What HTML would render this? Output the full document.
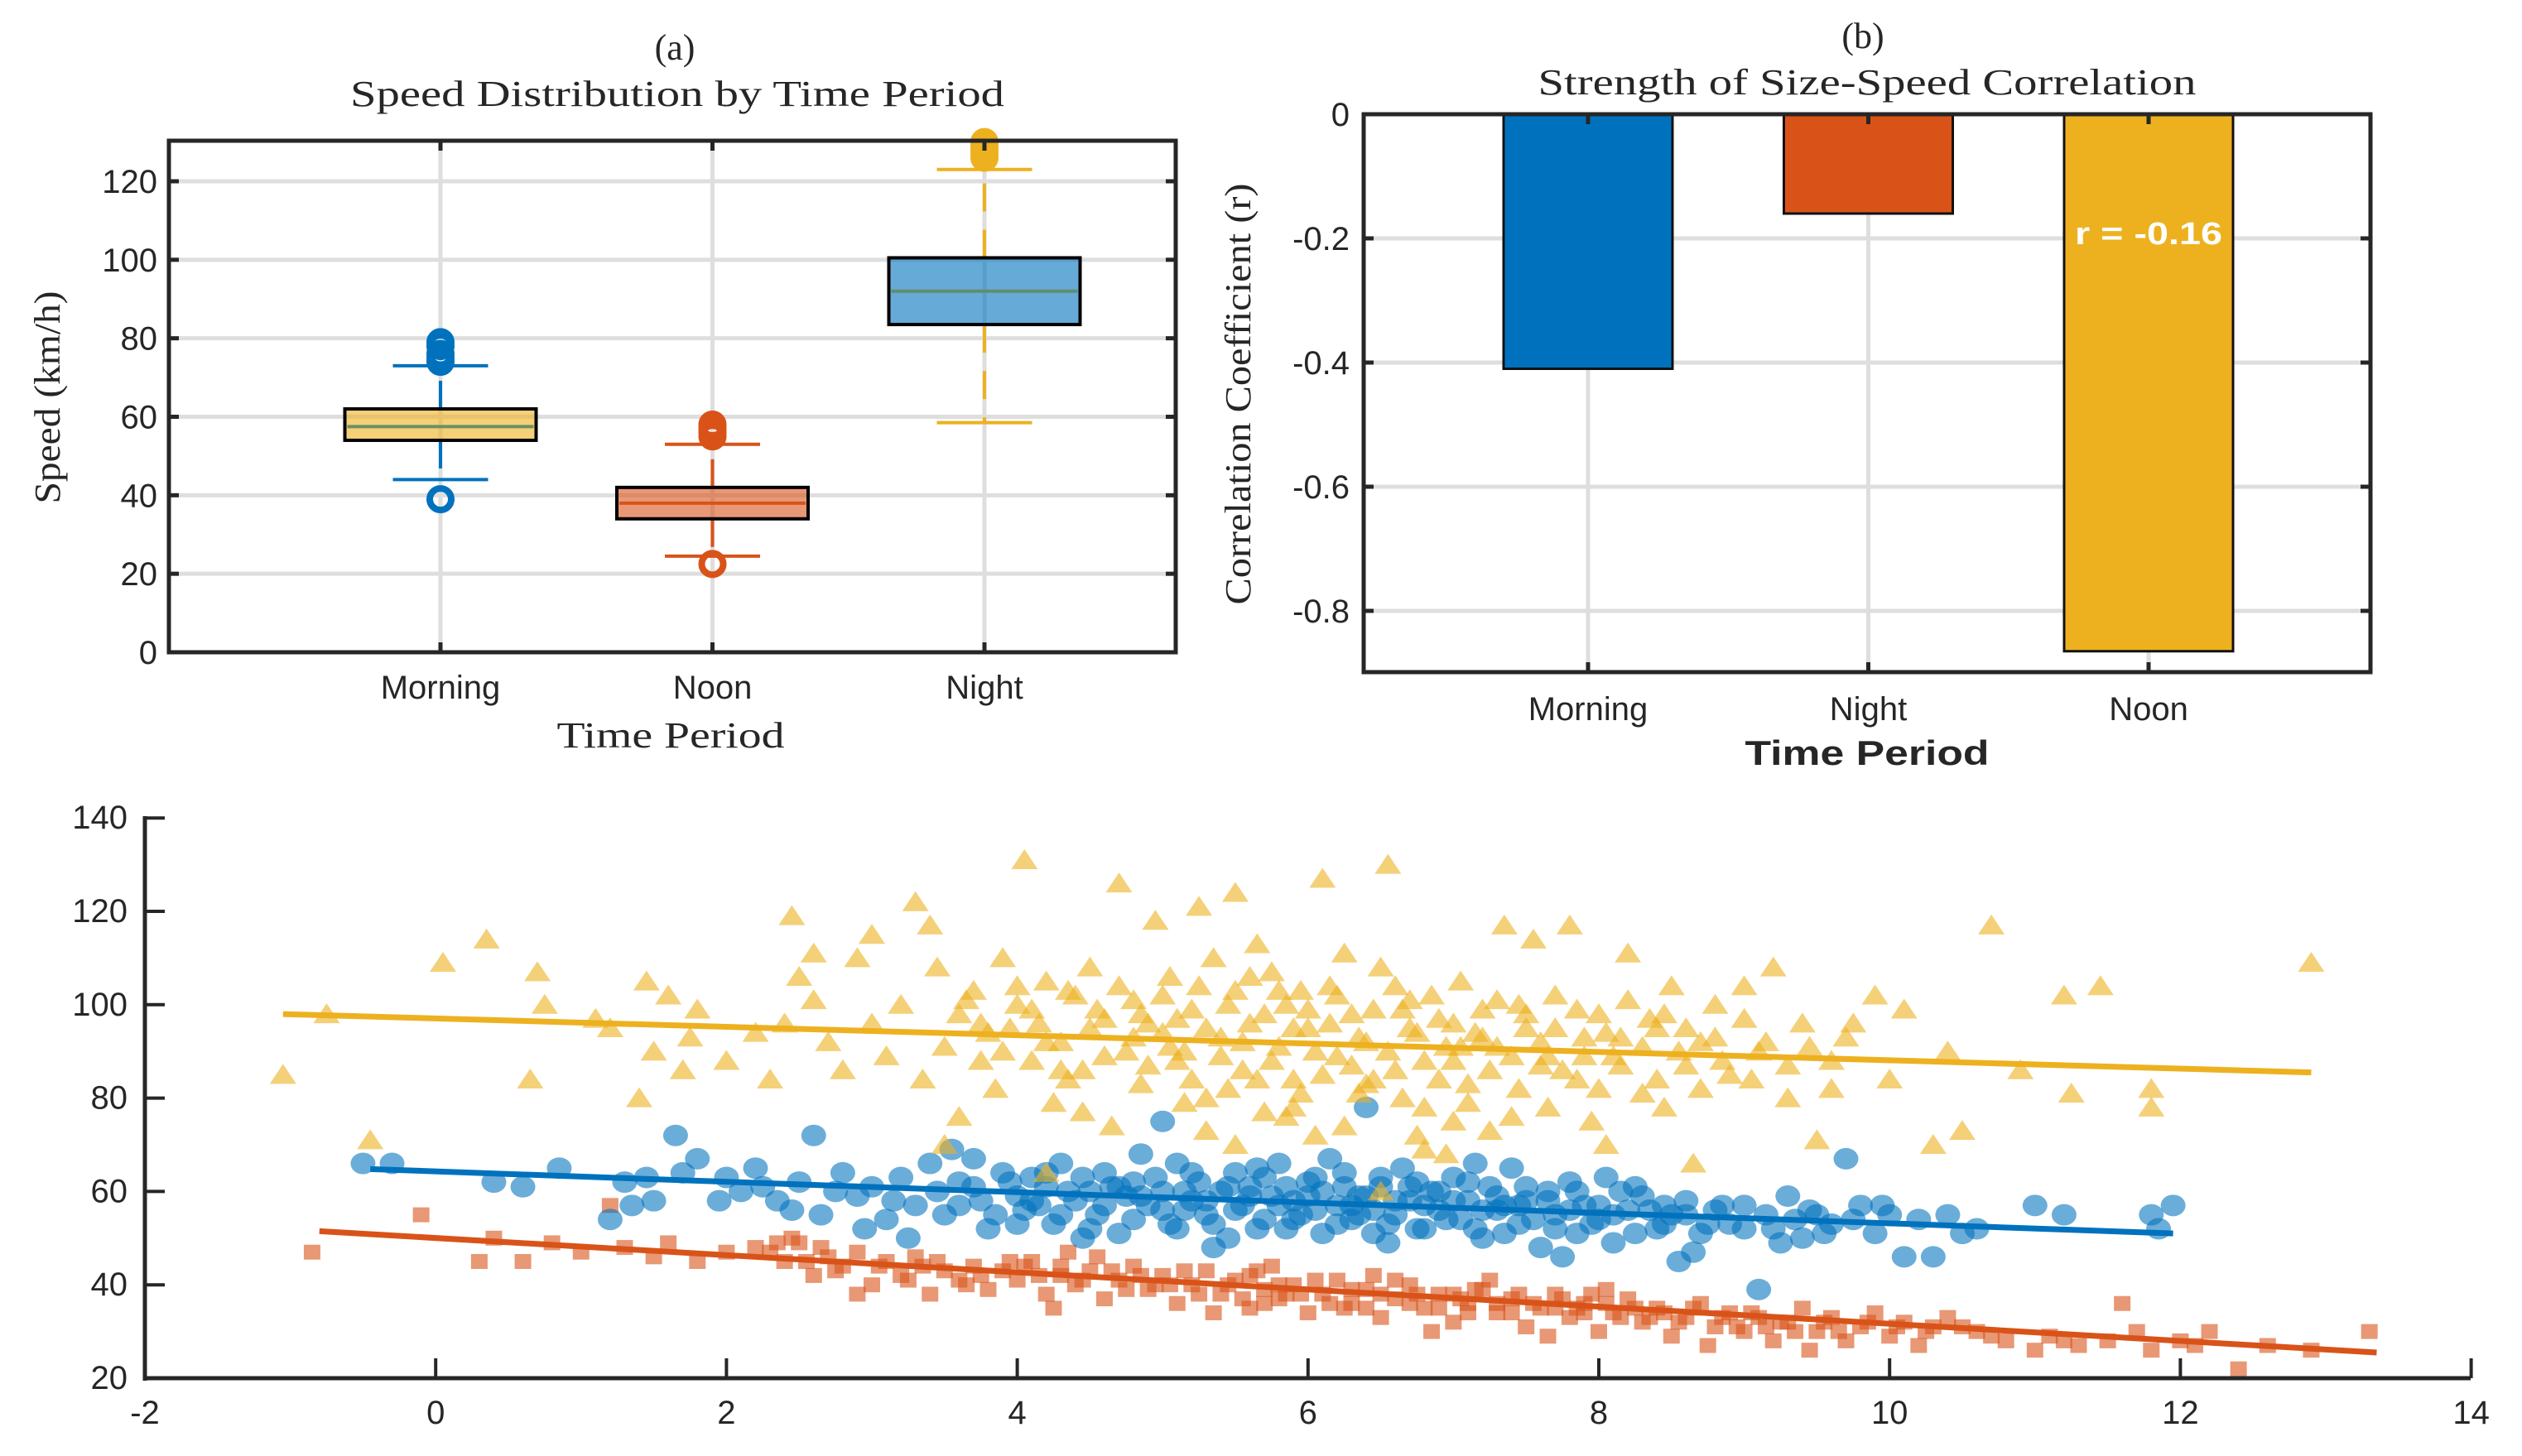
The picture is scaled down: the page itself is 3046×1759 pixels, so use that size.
<!DOCTYPE html>
<html><head><meta charset="utf-8"><style>
html,body{margin:0;padding:0;background:#fff}
svg{display:block}
text{fill:#262626}
.tk{font-family:"Liberation Sans",sans-serif;font-size:40px}
.sf{font-family:"Liberation Serif",serif}
</style></head><body>
<svg id="fig" width="3046" height="1759" viewBox="0 0 3046 1759" xmlns="http://www.w3.org/2000/svg">
<rect width="3046" height="1759" fill="#fff"/>
<g id="pa"></g>
<g id="pb"></g>
<g id="pc"></g>
</svg>
<script>
// ---------- Panel (a) data ----------
const boxCats = ["Morning","Noon","Night"];
const boxQ1 = [54, 34, 83.5];
const boxMed = [57.5, 38, 92];
const boxQ3 = [62, 42, 100.5];
const boxLo = [44, 24.5, 58.5];
const boxHi = [73, 53, 123];
const boxOutliers = [[39, 74, 75, 76, 78, 79], [22.5, 55, 56, 57, 58], [126, 127, 128, 129, 130]];
const boxYTicks = [0, 20, 40, 60, 80, 100, 120];
// ---------- Panel (b) data ----------
const barCats = ["Morning","Night","Noon"];
const barVals = [-0.41, -0.16, -0.865];
const barYTicks = [0, -0.2, -0.4, -0.6, -0.8];
const barYTickLabels = ["0","-0.2","-0.4","-0.6","-0.8"];
// ---------- Panel (c) data ----------
const scXTicks = [-2,0,2,4,6,8,10,12,14];
const scYTicks = [20,40,60,80,100,120,140];
const nightPts = [[-1.05,85],[-0.75,98],[-0.45,71],[0.05,109],[0.35,114],[0.65,84],[0.7,107],[0.75,100],[1.1,97],[1.2,95],[1.45,105],[1.5,90],[1.6,102],[1.75,93],[1.8,99],[1.4,80],[1.7,86],[2.0,88],[2.2,94],[2.3,84],[2.4,96],[2.45,119],[2.5,106],[2.6,111],[2.6,101],[2.7,92],[2.8,86],[2.9,110],[3.0,115],[3.0,96],[3.1,89],[3.2,100],[3.3,122],[3.35,84],[3.4,117],[3.45,108],[3.5,91],[3.6,98],[3.6,76],[3.7,103],[3.8,94],[3.85,82],[3.9,110],[4.0,100],[4.05,131],[4.1,88],[4.15,96],[4.2,105],[4.25,79],[4.3,92],[4.4,102],[4.45,86],[4.5,108],[4.6,97],[4.65,74],[4.7,126],[4.75,90],[4.8,101],[4.85,83],[4.95,118],[5.0,94],[5.05,106],[5.1,88],[5.2,99],[5.25,121],[5.3,80],[5.35,110],[5.4,93],[5.5,124],[5.5,103],[5.55,86],[5.6,96],[5.7,77],[5.75,107],[5.8,91],[5.85,100],[5.9,84],[6.0,95],[6.05,72],[6.1,127],[6.15,104],[6.2,89],[6.3,98],[6.35,81],[6.4,92],[6.5,108],[6.55,130],[6.6,86],[6.7,101],[6.75,94],[6.8,78],[6.9,97],[7.0,88],[7.05,105],[7.1,83],[7.2,99],[7.3,91],[7.35,117],[7.4,76],[7.5,95],[7.55,114],[7.6,87],[7.7,102],[7.8,117],[7.85,84],[7.9,93],[8.0,98],[8.05,70],[8.1,89],[8.2,111],[8.3,81],[8.4,95],[8.5,104],[8.6,87],[8.65,66],[8.7,92],[8.8,100],[8.9,85],[9.0,104],[9.1,90],[9.2,108],[9.3,80],[9.4,96],[9.5,71],[9.6,88],[9.7,93],[9.9,102],[10.0,84],[10.1,99],[10.3,70],[10.4,90],[10.5,73],[10.7,117],[10.9,86],[11.2,102],[11.25,81],[11.45,104],[11.8,82],[11.8,78],[12.9,109],[4.2,64],[3.5,70],[6.5,60],[5.9,78],[7.0,75],[5.3,73],[6.8,69],[4.55,99],[5.65,113],[6.25,111],[3.95,95],[7.45,100],[8.35,97],[5.15,90],[6.45,84],[3.75,88],[4.35,84],[5.45,82],[6.95,91],[7.65,89],[8.15,93],[5.95,103],[4.9,96],[6.65,99],[7.15,94]];
const nightDense = [[3.65,101],[3.75,96],[3.9,90],[4.0,104],[4.1,99],[4.2,92],[4.3,86],[4.35,103],[4.5,95],[4.6,89],[4.7,104],[4.8,93],[4.85,98],[4.9,87],[5.0,102],[5.05,91],[5.1,97],[5.2,84],[5.25,104],[5.3,95],[5.4,89],[5.45,100],[5.55,92],[5.6,106],[5.65,84],[5.7,98],[5.75,88],[5.8,103],[5.9,95],[5.95,81],[6.0,99],[6.05,90],[6.1,85],[6.15,96],[6.2,102],[6.3,87],[6.35,93],[6.4,83],[6.45,99],[6.55,90],[6.6,104],[6.65,80],[6.7,95],[6.8,88],[6.85,102],[6.9,84],[7.0,96],[7.05,91],[7.1,79],[7.2,93],[7.25,86],[7.3,101],[7.4,89],[7.45,82],[7.5,98],[7.6,92],[7.65,78],[7.7,95],[7.75,86],[7.85,99],[7.9,89],[8.0,82],[8.05,94],[8.15,87],[8.2,101],[8.3,91],[8.4,84],[8.45,98],[8.55,90],[8.6,95],[8.7,82],[8.8,93],[8.85,88],[9.0,97],[9.05,84],[9.15,92],[9.3,87],[9.45,91],[9.6,82],[9.75,96],[5.15,79],[5.85,76],[6.25,74],[6.75,72],[7.25,73],[7.95,75],[8.45,78],[4.45,77],[5.5,70],[6.95,68]];
const morningPts = [[-0.5,66],[-0.3,66],[0.4,62],[0.6,61],[0.85,65],[1.2,54],[1.3,62],[1.35,57],[1.45,63],[1.5,58],[1.65,72],[1.7,64],[1.8,67],[2.0,63],[2.1,60],[2.2,65],[2.35,58],[2.5,62],[2.6,72],[2.65,55],[2.8,64],[2.9,59],[3.0,61],[3.1,54],[3.2,63],[3.3,57],[3.4,66],[3.45,60],[3.5,55],[3.6,62],[3.7,67],[3.75,58],[3.8,52],[3.9,64],[4.0,59],[4.05,56],[4.1,63],[4.2,61],[4.25,53],[4.3,66],[4.4,58],[4.5,60],[4.55,55],[4.6,64],[4.7,51],[4.75,59],[4.8,62],[4.9,57],[5.0,75],[5.0,60],[5.05,53],[5.1,66],[5.2,58],[5.25,62],[5.3,55],[5.4,60],[5.45,50],[5.5,64],[5.55,57],[5.6,61],[5.7,54],[5.75,59],[5.8,66],[5.85,52],[5.9,58],[6.0,62],[6.05,56],[6.1,60],[6.2,53],[6.25,64],[6.3,57],[6.4,78],[6.4,59],[6.45,51],[6.5,61],[6.6,55],[6.65,65],[6.7,58],[6.8,52],[6.85,60],[6.9,56],[7.0,63],[7.05,54],[7.1,58],[7.2,50],[7.25,61],[7.3,56],[7.4,65],[7.45,53],[7.5,58],[7.6,48],[7.65,60],[7.7,55],[7.8,62],[7.85,51],[7.9,57],[8.0,54],[8.05,63],[8.1,49],[8.2,56],[8.3,59],[8.4,52],[8.5,55],[8.55,45],[8.6,58],[8.7,51],[8.8,56],[8.9,53],[9.0,57],[9.1,39],[9.2,52],[9.3,59],[9.4,50],[9.5,55],[9.6,53],[9.7,67],[9.8,57],[9.9,51],[10.0,55],[10.1,46],[10.2,54],[10.3,46],[10.5,51],[10.6,52],[11.0,57],[11.2,55],[11.8,55],[11.95,57],[11.85,52],[3.55,69],[4.85,68],[5.65,65],[6.15,67],[7.15,66],[8.25,61],[6.55,49],[5.35,48],[4.45,50],[7.75,46],[8.65,47],[9.25,49],[3.25,50],[2.95,52],[4.15,57],[5.15,56],[6.35,55],[7.35,57],[8.45,57],[9.35,54],[10.4,55],[5.95,55],[6.75,62],[4.65,61]];
const morningDense = [[3.6,57],[3.7,61],[3.85,55],[3.95,62],[4.0,53],[4.1,58],[4.2,64],[4.3,55],[4.35,60],[4.45,63],[4.5,52],[4.6,57],[4.7,61],[4.8,54],[4.85,59],[4.95,63],[5.0,56],[5.1,52],[5.15,60],[5.2,64],[5.3,58],[5.35,53],[5.45,61],[5.5,56],[5.6,59],[5.65,52],[5.7,63],[5.8,57],[5.85,61],[5.9,54],[6.0,59],[6.05,63],[6.1,51],[6.2,57],[6.25,61],[6.3,54],[6.35,59],[6.45,56],[6.5,63],[6.55,53],[6.6,58],[6.7,61],[6.75,52],[6.8,57],[6.9,60],[6.95,54],[7.0,58],[7.1,62],[7.15,52],[7.2,56],[7.3,59],[7.35,51],[7.45,57],[7.5,61],[7.55,54],[7.65,58],[7.7,52],[7.8,56],[7.85,60],[7.95,53],[8.0,57],[8.1,55],[8.15,60],[8.25,51],[8.35,56],[8.45,53],[8.6,55],[8.75,53],[8.85,57],[9.0,52],[9.15,55],[9.45,56],[9.55,51],[9.75,54],[9.95,57],[3.15,58],[2.75,60],[2.45,56],[2.25,61],[1.95,58]];
const noonPts = [[-0.85,47],[-0.1,55],[0.3,45],[0.4,50],[0.6,45],[0.8,49],[1.0,47],[1.2,57],[1.3,48],[1.5,46],[1.6,49],[1.8,45],[2.0,47],[2.2,48],[2.4,45],[2.5,49],[2.6,42],[2.7,46],[2.8,44],[2.9,47],[3.0,40],[3.1,45],[3.2,42],[3.3,46],[3.4,38],[3.5,43],[3.6,41],[3.7,44],[3.8,39],[3.9,43],[4.0,41],[4.1,45],[4.2,38],[4.3,42],[4.35,47],[4.4,40],[4.5,43],[4.6,37],[4.7,41],[4.8,44],[4.9,39],[5.0,42],[5.1,36],[5.2,40],[5.3,43],[5.4,38],[5.5,41],[5.6,35],[5.7,39],[5.75,44],[5.8,37],[5.9,40],[6.0,34],[6.1,38],[6.2,41],[6.3,36],[6.4,39],[6.5,33],[6.6,37],[6.7,40],[6.8,35],[6.9,38],[7.0,32],[7.1,36],[7.2,39],[7.3,34],[7.4,37],[7.5,31],[7.6,35],[7.7,38],[7.8,33],[7.9,36],[8.0,30],[8.1,34],[8.2,37],[8.3,32],[8.4,35],[8.5,29],[8.6,33],[8.7,36],[8.8,31],[8.9,34],[9.0,30],[9.1,33],[9.2,28],[9.3,32],[9.4,35],[9.5,30],[9.6,33],[9.7,28],[9.8,31],[9.9,34],[10.0,29],[10.1,32],[10.2,27],[10.3,31],[10.4,33],[10.6,30],[10.8,28],[11.0,26],[11.1,29],[11.3,27],[11.6,36],[11.7,30],[11.8,26],[12.0,28],[12.2,30],[12.4,22],[12.6,27],[12.9,26],[13.3,30],[5.65,43],[6.45,42],[7.25,41],[8.05,39],[4.55,46],[3.35,44],[2.35,49],[6.85,30],[7.65,29],[8.75,27],[9.45,26],[5.35,34],[4.25,35],[2.9,38],[4.05,44],[4.95,40],[5.85,38],[6.25,35],[7.05,37],[7.85,35],[8.35,33],[9.15,31],[3.65,40],[2.55,45]];
const noonDense = [[2.3,47],[2.45,50],[2.65,48],[2.75,43],[3.05,44],[3.25,41],[3.45,45],[3.75,42],[3.95,45],[4.15,42],[4.3,44],[4.45,41],[4.65,43],[4.75,39],[4.85,42],[5.05,40],[5.15,43],[5.25,38],[5.45,40],[5.55,37],[5.6,42],[5.7,36],[5.8,40],[5.95,38],[6.05,41],[6.15,36],[6.3,39],[6.4,35],[6.5,38],[6.6,41],[6.7,36],[6.75,38],[6.9,35],[7.0,38],[7.1,34],[7.15,39],[7.3,36],[7.4,34],[7.45,38],[7.55,36],[7.7,35],[7.75,37],[7.9,34],[7.95,38],[8.05,36],[8.15,33],[8.25,35],[8.45,34],[8.55,32],[8.65,35],[8.85,33],[8.95,31],[9.05,34],[9.25,32],[9.35,30],[9.55,32],[9.65,30],[9.85,32],[10.05,31],[10.25,30],[10.5,31],[10.7,29],[11.2,28],[11.5,28],[12.1,27]];
const fitNightX = [-1.05, 12.9], fitNightY = [98, 85.5];
const fitMorningX = [-0.45, 11.95], fitMorningY = [64.8, 51];
const fitNoonX = [-0.8, 13.35], fitNoonY = [51.5, 25.5];

const NS = "http://www.w3.org/2000/svg";
function mk(parent, tag, attrs, txt){
  const e = document.createElementNS(NS, tag);
  for (const k in attrs) e.setAttribute(k, attrs[k]);
  if (txt !== undefined) e.textContent = txt;
  parent.appendChild(e);
  return e;
}
const AX = "#262626", GRID = "#dedede";

// ================= Panel A =================
(function(){
  const g = document.getElementById('pa');
  const L=204, R=1420, T=170, B=788;
  const ya = v => B - v*(B-219)/120;
  const xa = i => 532 + i*328.5;
  const bw = 231, cw = 115;
  for (const v of boxYTicks){ const l=mk(g,'line',{x1:L,x2:R,y1:ya(v),y2:ya(v),stroke:GRID,'stroke-width':5});
      }
  boxCats.forEach((c,i)=>{ const l=mk(g,'line',{x1:xa(i),x2:xa(i),y1:T,y2:B,stroke:GRID,'stroke-width':5});
      });
  const wc = ["#0072BD","#D95319","#EDB120"];
  const fc = ["rgba(237,177,32,0.6)","rgba(217,83,25,0.6)","rgba(0,114,189,0.6)"];
  const mc = ["#6f8f5f","#D95319","#5f8f6a"];
  boxCats.forEach((c,i)=>{
    const x = xa(i);
    const bg = mk(g,'g',{});
     
    mk(bg,'line',{x1:x,x2:x,y1:ya(boxQ3[i]),y2:ya(boxHi[i]),stroke:wc[i],'stroke-width':4,'stroke-dasharray':'34 22'});
    mk(bg,'line',{x1:x,x2:x,y1:ya(boxQ1[i]),y2:ya(boxLo[i]),stroke:wc[i],'stroke-width':4,'stroke-dasharray':'34 22'});
    mk(bg,'line',{x1:x-cw/2,x2:x+cw/2,y1:ya(boxHi[i]),y2:ya(boxHi[i]),stroke:wc[i],'stroke-width':4});
    mk(bg,'line',{x1:x-cw/2,x2:x+cw/2,y1:ya(boxLo[i]),y2:ya(boxLo[i]),stroke:wc[i],'stroke-width':4});
    mk(bg,'rect',{x:x-bw/2,y:ya(boxQ3[i]),width:bw,height:ya(boxQ1[i])-ya(boxQ3[i]),fill:fc[i],stroke:'#000','stroke-width':4});
    mk(bg,'line',{x1:x-bw/2+3,x2:x+bw/2-3,y1:ya(boxMed[i]),y2:ya(boxMed[i]),stroke:mc[i],'stroke-width':4});
    for (const o of boxOutliers[i]){ const cEl=mk(bg,'circle',{cx:x,cy:ya(o),r:13,fill:'none',stroke:wc[i],'stroke-width':8});
        }
  });
  mk(g,'rect',{x:L,y:T,width:R-L,height:B-T,fill:'none',stroke:AX,'stroke-width':5});
  for (const v of boxYTicks){
    mk(g,'line',{x1:L,x2:L+12,y1:ya(v),y2:ya(v),stroke:AX,'stroke-width':5});
    mk(g,'line',{x1:R-12,x2:R,y1:ya(v),y2:ya(v),stroke:AX,'stroke-width':5});
    const t=mk(g,'text',{x:L-14,y:ya(v)+14,'text-anchor':'end',class:'tk'},String(v));
     
  }
  boxCats.forEach((c,i)=>{
    mk(g,'line',{x1:xa(i),x2:xa(i),y1:B-12,y2:B,stroke:AX,'stroke-width':5});
    mk(g,'line',{x1:xa(i),x2:xa(i),y1:T,y2:T+12,stroke:AX,'stroke-width':5});
    const t=mk(g,'text',{x:xa(i),y:844,'text-anchor':'middle',class:'tk'},c);
     
  });
  let t=mk(g,'text',{x:810,y:903,'text-anchor':'middle',class:'sf','font-size':44,textLength:275,lengthAdjust:'spacingAndGlyphs'},'Time Period');
   
  t=mk(g,'text',{x:0,y:0,'text-anchor':'middle',class:'sf','font-size':44,textLength:257,lengthAdjust:'spacingAndGlyphs',transform:'translate(72,480) rotate(-90)'},'Speed (km/h)');
   
  t=mk(g,'text',{x:815,y:72,'text-anchor':'middle',class:'sf','font-size':44},'(a)');
   
  t=mk(g,'text',{x:818,y:128,'text-anchor':'middle',class:'sf','font-size':44,textLength:790,lengthAdjust:'spacingAndGlyphs'},'Speed Distribution by Time Period');
   
})();

// ================= Panel B =================
(function(){
  const g = document.getElementById('pb');
  const L=1647, R=2863, T=138, B=812;
  const yb = v => T + (-v)*750;
  const xb = i => 1918 + i*338.5;
  const bw = 204;
  for (const v of barYTicks){ const l=mk(g,'line',{x1:L,x2:R,y1:yb(v),y2:yb(v),stroke:GRID,'stroke-width':5});
      }
  barCats.forEach((c,i)=>{ const l=mk(g,'line',{x1:xb(i),x2:xb(i),y1:T,y2:B,stroke:GRID,'stroke-width':5});
      });
  const cols = ["#0072BD","#D95319","#EDB120"];
  barCats.forEach((c,i)=>{
    const r=mk(g,'rect',{x:xb(i)-bw/2,y:yb(0),width:bw,height:yb(barVals[i])-yb(0),fill:cols[i],stroke:'#111','stroke-width':3});
     
  });
  let t=mk(g,'text',{x:xb(2),y:295,'text-anchor':'middle','font-family':'Liberation Sans, sans-serif','font-weight':'bold','font-size':38,fill:'#fff',style:'fill:#fff',textLength:178,lengthAdjust:'spacingAndGlyphs'},'r = -0.16');
   
  mk(g,'rect',{x:L,y:T,width:R-L,height:B-T,fill:'none',stroke:AX,'stroke-width':5});
  barYTicks.forEach((v,j)=>{
    mk(g,'line',{x1:L,x2:L+12,y1:yb(v),y2:yb(v),stroke:AX,'stroke-width':5});
    mk(g,'line',{x1:R-12,x2:R,y1:yb(v),y2:yb(v),stroke:AX,'stroke-width':5});
    const tt=mk(g,'text',{x:1630,y:yb(v)+14,'text-anchor':'end',class:'tk'},barYTickLabels[j]);
     
  });
  barCats.forEach((c,i)=>{
    mk(g,'line',{x1:xb(i),x2:xb(i),y1:B-12,y2:B,stroke:AX,'stroke-width':5});
    mk(g,'line',{x1:xb(i),x2:xb(i),y1:T,y2:T+12,stroke:AX,'stroke-width':5});
    const tt=mk(g,'text',{x:xb(i),y:870,'text-anchor':'middle',class:'tk'},c);
     
  });
  t=mk(g,'text',{x:2255,y:924,'text-anchor':'middle','font-family':'Liberation Sans, sans-serif','font-weight':'bold','font-size':42,textLength:295,lengthAdjust:'spacingAndGlyphs'},'Time Period');
   
  t=mk(g,'text',{x:0,y:0,'text-anchor':'middle',class:'sf','font-size':44,textLength:509,lengthAdjust:'spacingAndGlyphs',transform:'translate(1510,476) rotate(-90)'},'Correlation Coefficient (r)');
   
  t=mk(g,'text',{x:2250,y:58,'text-anchor':'middle',class:'sf','font-size':44},'(b)');
   
  t=mk(g,'text',{x:2255,y:114,'text-anchor':'middle',class:'sf','font-size':44,textLength:795,lengthAdjust:'spacingAndGlyphs'},'Strength of Size-Speed Correlation');
   
})();

// ================= Panel C =================
(function(){
  const g = document.getElementById('pc');
  const L=175, B=1665, T=988, R=2984;
  const xc = v => L + (v+2)*175.6;
  const yc = v => B - (v-20)*5.64;
  const sq = mk(g,'g',{});
   
  for (const p of noonPts.concat(noonDense)){ const e=mk(sq,'rect',{x:xc(p[0])-10,y:yc(p[1])-9,width:20,height:18,fill:'#D95319','fill-opacity':0.6});
      }
  const ci = mk(g,'g',{});
   
  for (const p of morningPts.concat(morningDense)){ const e=mk(ci,'ellipse',{cx:xc(p[0]),cy:yc(p[1]),rx:15,ry:13,fill:'#0072BD','fill-opacity':0.58});
      }
  const tr = mk(g,'g',{});
   
  for (const p of nightPts.concat(nightDense)){ const x=xc(p[0]), y=yc(p[1]);
    const e=mk(tr,'polygon',{points:`${x},${y-13} ${x-16},${y+11} ${x+16},${y+11}`,fill:'#EDB120','fill-opacity':0.6});
      }
  const fits = [[fitNightX,fitNightY,'#EDB120','night-fit-line'],[fitMorningX,fitMorningY,'#0072BD','morning-fit-line'],[fitNoonX,fitNoonY,'#D95319','noon-fit-line']];
  for (const f of fits){ const l=mk(g,'line',{x1:xc(f[0][0]),y1:yc(f[1][0]),x2:xc(f[0][1]),y2:yc(f[1][1]),stroke:f[2],'stroke-width':7});
      }
  mk(g,'line',{x1:L,x2:L,y1:T-2,y2:B+3,stroke:AX,'stroke-width':5});
  mk(g,'line',{x1:L-2,x2:R,y1:B,y2:B,stroke:AX,'stroke-width':5});
  for (const v of scXTicks){
    mk(g,'line',{x1:xc(v),x2:xc(v),y1:B-24,y2:B,stroke:AX,'stroke-width':4});
    const t=mk(g,'text',{x:xc(v),y:1720,'text-anchor':'middle',class:'tk','font-size':36},String(v));
     
  }
  for (const v of scYTicks){
    mk(g,'line',{x1:L,x2:L+24,y1:yc(v),y2:yc(v),stroke:AX,'stroke-width':4});
    const t=mk(g,'text',{x:154,y:yc(v)+13,'text-anchor':'end',class:'tk','font-size':36},String(v));
     
  }
})();
</script>
</body></html>
